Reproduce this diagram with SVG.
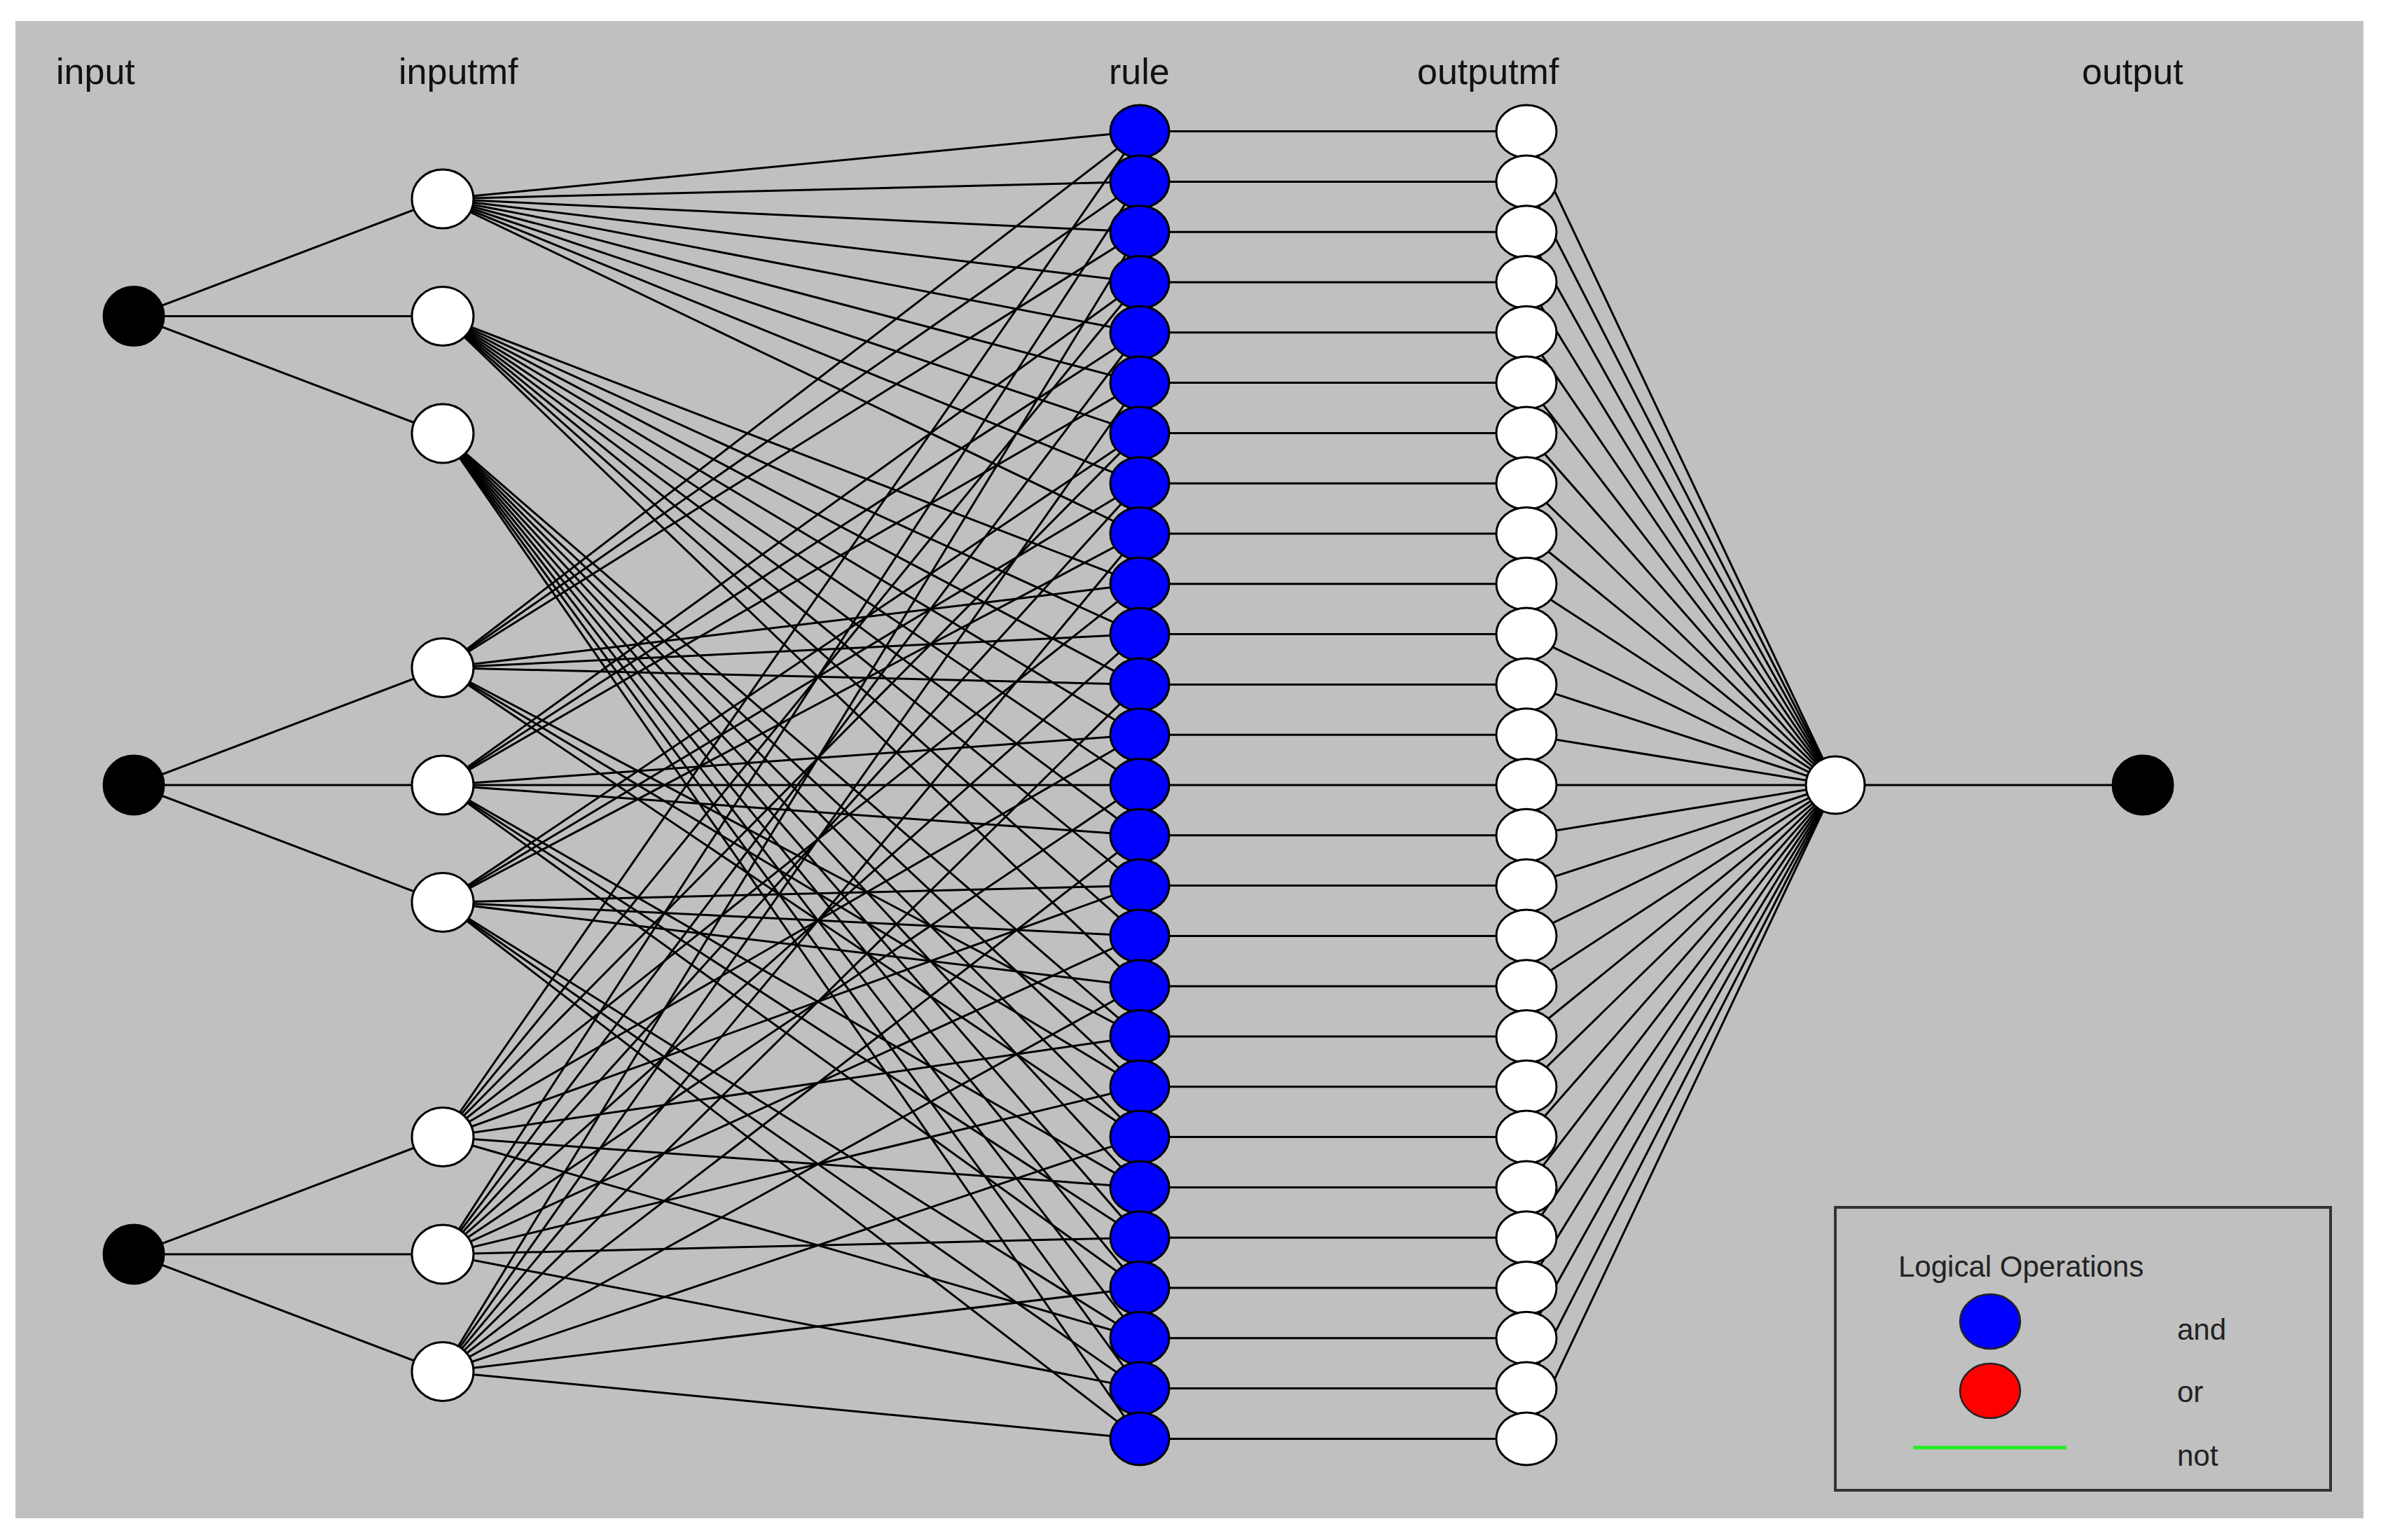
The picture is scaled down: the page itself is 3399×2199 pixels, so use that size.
<svg xmlns="http://www.w3.org/2000/svg" width="3399" height="2199" viewBox="0 0 3399 2199">
<style>
.lbl{font-family:"Liberation Sans",Arial,sans-serif;font-size:52px;fill:#111}
.lg{font-family:"Liberation Sans",Arial,sans-serif;font-size:42px;fill:#222}
.c line{stroke:#000;stroke-width:3;fill:none}
.blk{fill:#000;stroke:#000;stroke-width:3}
.wht{fill:#fff;stroke:#000;stroke-width:3}
.rul{fill:#0000ff;stroke:#000;stroke-width:3}
</style>
<rect x="0" y="0" width="3399" height="2199" fill="#fff"/>
<rect x="22" y="30" width="3352" height="2138" fill="#c0c0c0"/>
<g id="titles">
<text class="lbl" x="80" y="120">input</text>
<text class="lbl" x="569" y="120">inputmf</text>
<text class="lbl" x="1583" y="120">rule</text>
<text class="lbl" x="2023" y="120">outputmf</text>
<text class="lbl" x="2972" y="120">output</text>
</g>
<g id="connectors" class="c">
<line x1="191" y1="451.5" x2="632" y2="284"/>
<line x1="191" y1="451.5" x2="632" y2="451.5"/>
<line x1="191" y1="451.5" x2="632" y2="619"/>
<line x1="191" y1="1121" x2="632" y2="953.5"/>
<line x1="191" y1="1121" x2="632" y2="1121"/>
<line x1="191" y1="1121" x2="632" y2="1288.5"/>
<line x1="191" y1="1791" x2="632" y2="1623.5"/>
<line x1="191" y1="1791" x2="632" y2="1791"/>
<line x1="191" y1="1791" x2="632" y2="1958.5"/>
<line x1="632" y1="284" x2="1627" y2="187.6"/>
<line x1="632" y1="284" x2="1627" y2="259.4"/>
<line x1="632" y1="284" x2="1627" y2="331.2"/>
<line x1="632" y1="284" x2="1627" y2="403"/>
<line x1="632" y1="284" x2="1627" y2="474.8"/>
<line x1="632" y1="284" x2="1627" y2="546.6"/>
<line x1="632" y1="284" x2="1627" y2="618.4"/>
<line x1="632" y1="284" x2="1627" y2="690.2"/>
<line x1="632" y1="284" x2="1627" y2="762"/>
<line x1="632" y1="451.5" x2="1627" y2="833.8"/>
<line x1="632" y1="451.5" x2="1627" y2="905.6"/>
<line x1="632" y1="451.5" x2="1627" y2="977.4"/>
<line x1="632" y1="451.5" x2="1627" y2="1049.2"/>
<line x1="632" y1="451.5" x2="1627" y2="1121"/>
<line x1="632" y1="451.5" x2="1627" y2="1192.8"/>
<line x1="632" y1="451.5" x2="1627" y2="1264.6"/>
<line x1="632" y1="451.5" x2="1627" y2="1336.4"/>
<line x1="632" y1="451.5" x2="1627" y2="1408.2"/>
<line x1="632" y1="619" x2="1627" y2="1480"/>
<line x1="632" y1="619" x2="1627" y2="1551.8"/>
<line x1="632" y1="619" x2="1627" y2="1623.6"/>
<line x1="632" y1="619" x2="1627" y2="1695.4"/>
<line x1="632" y1="619" x2="1627" y2="1767.2"/>
<line x1="632" y1="619" x2="1627" y2="1839"/>
<line x1="632" y1="619" x2="1627" y2="1910.8"/>
<line x1="632" y1="619" x2="1627" y2="1982.6"/>
<line x1="632" y1="619" x2="1627" y2="2054.4"/>
<line x1="632" y1="953.5" x2="1627" y2="187.6"/>
<line x1="632" y1="953.5" x2="1627" y2="259.4"/>
<line x1="632" y1="953.5" x2="1627" y2="331.2"/>
<line x1="632" y1="953.5" x2="1627" y2="833.8"/>
<line x1="632" y1="953.5" x2="1627" y2="905.6"/>
<line x1="632" y1="953.5" x2="1627" y2="977.4"/>
<line x1="632" y1="953.5" x2="1627" y2="1480"/>
<line x1="632" y1="953.5" x2="1627" y2="1551.8"/>
<line x1="632" y1="953.5" x2="1627" y2="1623.6"/>
<line x1="632" y1="1121" x2="1627" y2="403"/>
<line x1="632" y1="1121" x2="1627" y2="474.8"/>
<line x1="632" y1="1121" x2="1627" y2="546.6"/>
<line x1="632" y1="1121" x2="1627" y2="1049.2"/>
<line x1="632" y1="1121" x2="1627" y2="1121"/>
<line x1="632" y1="1121" x2="1627" y2="1192.8"/>
<line x1="632" y1="1121" x2="1627" y2="1695.4"/>
<line x1="632" y1="1121" x2="1627" y2="1767.2"/>
<line x1="632" y1="1121" x2="1627" y2="1839"/>
<line x1="632" y1="1288.5" x2="1627" y2="618.4"/>
<line x1="632" y1="1288.5" x2="1627" y2="690.2"/>
<line x1="632" y1="1288.5" x2="1627" y2="762"/>
<line x1="632" y1="1288.5" x2="1627" y2="1264.6"/>
<line x1="632" y1="1288.5" x2="1627" y2="1336.4"/>
<line x1="632" y1="1288.5" x2="1627" y2="1408.2"/>
<line x1="632" y1="1288.5" x2="1627" y2="1910.8"/>
<line x1="632" y1="1288.5" x2="1627" y2="1982.6"/>
<line x1="632" y1="1288.5" x2="1627" y2="2054.4"/>
<line x1="632" y1="1623.5" x2="1627" y2="187.6"/>
<line x1="632" y1="1623.5" x2="1627" y2="403"/>
<line x1="632" y1="1623.5" x2="1627" y2="618.4"/>
<line x1="632" y1="1623.5" x2="1627" y2="833.8"/>
<line x1="632" y1="1623.5" x2="1627" y2="1049.2"/>
<line x1="632" y1="1623.5" x2="1627" y2="1264.6"/>
<line x1="632" y1="1623.5" x2="1627" y2="1480"/>
<line x1="632" y1="1623.5" x2="1627" y2="1695.4"/>
<line x1="632" y1="1623.5" x2="1627" y2="1910.8"/>
<line x1="632" y1="1791" x2="1627" y2="259.4"/>
<line x1="632" y1="1791" x2="1627" y2="474.8"/>
<line x1="632" y1="1791" x2="1627" y2="690.2"/>
<line x1="632" y1="1791" x2="1627" y2="905.6"/>
<line x1="632" y1="1791" x2="1627" y2="1121"/>
<line x1="632" y1="1791" x2="1627" y2="1336.4"/>
<line x1="632" y1="1791" x2="1627" y2="1551.8"/>
<line x1="632" y1="1791" x2="1627" y2="1767.2"/>
<line x1="632" y1="1791" x2="1627" y2="1982.6"/>
<line x1="632" y1="1958.5" x2="1627" y2="331.2"/>
<line x1="632" y1="1958.5" x2="1627" y2="546.6"/>
<line x1="632" y1="1958.5" x2="1627" y2="762"/>
<line x1="632" y1="1958.5" x2="1627" y2="977.4"/>
<line x1="632" y1="1958.5" x2="1627" y2="1192.8"/>
<line x1="632" y1="1958.5" x2="1627" y2="1408.2"/>
<line x1="632" y1="1958.5" x2="1627" y2="1623.6"/>
<line x1="632" y1="1958.5" x2="1627" y2="1839"/>
<line x1="632" y1="1958.5" x2="1627" y2="2054.4"/>
<line x1="1627" y1="187.6" x2="2179" y2="187.6"/>
<line x1="1627" y1="259.4" x2="2179" y2="259.4"/>
<line x1="1627" y1="331.2" x2="2179" y2="331.2"/>
<line x1="1627" y1="403" x2="2179" y2="403"/>
<line x1="1627" y1="474.8" x2="2179" y2="474.8"/>
<line x1="1627" y1="546.6" x2="2179" y2="546.6"/>
<line x1="1627" y1="618.4" x2="2179" y2="618.4"/>
<line x1="1627" y1="690.2" x2="2179" y2="690.2"/>
<line x1="1627" y1="762" x2="2179" y2="762"/>
<line x1="1627" y1="833.8" x2="2179" y2="833.8"/>
<line x1="1627" y1="905.6" x2="2179" y2="905.6"/>
<line x1="1627" y1="977.4" x2="2179" y2="977.4"/>
<line x1="1627" y1="1049.2" x2="2179" y2="1049.2"/>
<line x1="1627" y1="1121" x2="2179" y2="1121"/>
<line x1="1627" y1="1192.8" x2="2179" y2="1192.8"/>
<line x1="1627" y1="1264.6" x2="2179" y2="1264.6"/>
<line x1="1627" y1="1336.4" x2="2179" y2="1336.4"/>
<line x1="1627" y1="1408.2" x2="2179" y2="1408.2"/>
<line x1="1627" y1="1480" x2="2179" y2="1480"/>
<line x1="1627" y1="1551.8" x2="2179" y2="1551.8"/>
<line x1="1627" y1="1623.6" x2="2179" y2="1623.6"/>
<line x1="1627" y1="1695.4" x2="2179" y2="1695.4"/>
<line x1="1627" y1="1767.2" x2="2179" y2="1767.2"/>
<line x1="1627" y1="1839" x2="2179" y2="1839"/>
<line x1="1627" y1="1910.8" x2="2179" y2="1910.8"/>
<line x1="1627" y1="1982.6" x2="2179" y2="1982.6"/>
<line x1="1627" y1="2054.4" x2="2179" y2="2054.4"/>
<line x1="2179" y1="187.6" x2="2620" y2="1121"/>
<line x1="2179" y1="259.4" x2="2620" y2="1121"/>
<line x1="2179" y1="331.2" x2="2620" y2="1121"/>
<line x1="2179" y1="403" x2="2620" y2="1121"/>
<line x1="2179" y1="474.8" x2="2620" y2="1121"/>
<line x1="2179" y1="546.6" x2="2620" y2="1121"/>
<line x1="2179" y1="618.4" x2="2620" y2="1121"/>
<line x1="2179" y1="690.2" x2="2620" y2="1121"/>
<line x1="2179" y1="762" x2="2620" y2="1121"/>
<line x1="2179" y1="833.8" x2="2620" y2="1121"/>
<line x1="2179" y1="905.6" x2="2620" y2="1121"/>
<line x1="2179" y1="977.4" x2="2620" y2="1121"/>
<line x1="2179" y1="1049.2" x2="2620" y2="1121"/>
<line x1="2179" y1="1121" x2="2620" y2="1121"/>
<line x1="2179" y1="1192.8" x2="2620" y2="1121"/>
<line x1="2179" y1="1264.6" x2="2620" y2="1121"/>
<line x1="2179" y1="1336.4" x2="2620" y2="1121"/>
<line x1="2179" y1="1408.2" x2="2620" y2="1121"/>
<line x1="2179" y1="1480" x2="2620" y2="1121"/>
<line x1="2179" y1="1551.8" x2="2620" y2="1121"/>
<line x1="2179" y1="1623.6" x2="2620" y2="1121"/>
<line x1="2179" y1="1695.4" x2="2620" y2="1121"/>
<line x1="2179" y1="1767.2" x2="2620" y2="1121"/>
<line x1="2179" y1="1839" x2="2620" y2="1121"/>
<line x1="2179" y1="1910.8" x2="2620" y2="1121"/>
<line x1="2179" y1="1982.6" x2="2620" y2="1121"/>
<line x1="2179" y1="2054.4" x2="2620" y2="1121"/>
<line x1="2620" y1="1121" x2="3059" y2="1121"/>
</g>
<g id="input1"><ellipse class="blk" cx="191" cy="451.5" rx="43" ry="42"/></g>
<g id="input2"><ellipse class="blk" cx="191" cy="1121" rx="43" ry="42"/></g>
<g id="input3"><ellipse class="blk" cx="191" cy="1791" rx="43" ry="42"/></g>
<g id="inputmf1"><ellipse class="wht" cx="632" cy="284" rx="44" ry="42"/></g>
<g id="inputmf2"><ellipse class="wht" cx="632" cy="451.5" rx="44" ry="42"/></g>
<g id="inputmf3"><ellipse class="wht" cx="632" cy="619" rx="44" ry="42"/></g>
<g id="inputmf4"><ellipse class="wht" cx="632" cy="953.5" rx="44" ry="42"/></g>
<g id="inputmf5"><ellipse class="wht" cx="632" cy="1121" rx="44" ry="42"/></g>
<g id="inputmf6"><ellipse class="wht" cx="632" cy="1288.5" rx="44" ry="42"/></g>
<g id="inputmf7"><ellipse class="wht" cx="632" cy="1623.5" rx="44" ry="42"/></g>
<g id="inputmf8"><ellipse class="wht" cx="632" cy="1791" rx="44" ry="42"/></g>
<g id="inputmf9"><ellipse class="wht" cx="632" cy="1958.5" rx="44" ry="42"/></g>
<g id="rule1"><ellipse class="rul" cx="1627" cy="187.6" rx="42" ry="37.5"/></g>
<g id="rule2"><ellipse class="rul" cx="1627" cy="259.4" rx="42" ry="37.5"/></g>
<g id="rule3"><ellipse class="rul" cx="1627" cy="331.2" rx="42" ry="37.5"/></g>
<g id="rule4"><ellipse class="rul" cx="1627" cy="403" rx="42" ry="37.5"/></g>
<g id="rule5"><ellipse class="rul" cx="1627" cy="474.8" rx="42" ry="37.5"/></g>
<g id="rule6"><ellipse class="rul" cx="1627" cy="546.6" rx="42" ry="37.5"/></g>
<g id="rule7"><ellipse class="rul" cx="1627" cy="618.4" rx="42" ry="37.5"/></g>
<g id="rule8"><ellipse class="rul" cx="1627" cy="690.2" rx="42" ry="37.5"/></g>
<g id="rule9"><ellipse class="rul" cx="1627" cy="762" rx="42" ry="37.5"/></g>
<g id="rule10"><ellipse class="rul" cx="1627" cy="833.8" rx="42" ry="37.5"/></g>
<g id="rule11"><ellipse class="rul" cx="1627" cy="905.6" rx="42" ry="37.5"/></g>
<g id="rule12"><ellipse class="rul" cx="1627" cy="977.4" rx="42" ry="37.5"/></g>
<g id="rule13"><ellipse class="rul" cx="1627" cy="1049.2" rx="42" ry="37.5"/></g>
<g id="rule14"><ellipse class="rul" cx="1627" cy="1121" rx="42" ry="37.5"/></g>
<g id="rule15"><ellipse class="rul" cx="1627" cy="1192.8" rx="42" ry="37.5"/></g>
<g id="rule16"><ellipse class="rul" cx="1627" cy="1264.6" rx="42" ry="37.5"/></g>
<g id="rule17"><ellipse class="rul" cx="1627" cy="1336.4" rx="42" ry="37.5"/></g>
<g id="rule18"><ellipse class="rul" cx="1627" cy="1408.2" rx="42" ry="37.5"/></g>
<g id="rule19"><ellipse class="rul" cx="1627" cy="1480" rx="42" ry="37.5"/></g>
<g id="rule20"><ellipse class="rul" cx="1627" cy="1551.8" rx="42" ry="37.5"/></g>
<g id="rule21"><ellipse class="rul" cx="1627" cy="1623.6" rx="42" ry="37.5"/></g>
<g id="rule22"><ellipse class="rul" cx="1627" cy="1695.4" rx="42" ry="37.5"/></g>
<g id="rule23"><ellipse class="rul" cx="1627" cy="1767.2" rx="42" ry="37.5"/></g>
<g id="rule24"><ellipse class="rul" cx="1627" cy="1839" rx="42" ry="37.5"/></g>
<g id="rule25"><ellipse class="rul" cx="1627" cy="1910.8" rx="42" ry="37.5"/></g>
<g id="rule26"><ellipse class="rul" cx="1627" cy="1982.6" rx="42" ry="37.5"/></g>
<g id="rule27"><ellipse class="rul" cx="1627" cy="2054.4" rx="42" ry="37.5"/></g>
<g id="outputmf1"><ellipse class="wht" cx="2179" cy="187.6" rx="43" ry="37.5"/></g>
<g id="outputmf2"><ellipse class="wht" cx="2179" cy="259.4" rx="43" ry="37.5"/></g>
<g id="outputmf3"><ellipse class="wht" cx="2179" cy="331.2" rx="43" ry="37.5"/></g>
<g id="outputmf4"><ellipse class="wht" cx="2179" cy="403" rx="43" ry="37.5"/></g>
<g id="outputmf5"><ellipse class="wht" cx="2179" cy="474.8" rx="43" ry="37.5"/></g>
<g id="outputmf6"><ellipse class="wht" cx="2179" cy="546.6" rx="43" ry="37.5"/></g>
<g id="outputmf7"><ellipse class="wht" cx="2179" cy="618.4" rx="43" ry="37.5"/></g>
<g id="outputmf8"><ellipse class="wht" cx="2179" cy="690.2" rx="43" ry="37.5"/></g>
<g id="outputmf9"><ellipse class="wht" cx="2179" cy="762" rx="43" ry="37.5"/></g>
<g id="outputmf10"><ellipse class="wht" cx="2179" cy="833.8" rx="43" ry="37.5"/></g>
<g id="outputmf11"><ellipse class="wht" cx="2179" cy="905.6" rx="43" ry="37.5"/></g>
<g id="outputmf12"><ellipse class="wht" cx="2179" cy="977.4" rx="43" ry="37.5"/></g>
<g id="outputmf13"><ellipse class="wht" cx="2179" cy="1049.2" rx="43" ry="37.5"/></g>
<g id="outputmf14"><ellipse class="wht" cx="2179" cy="1121" rx="43" ry="37.5"/></g>
<g id="outputmf15"><ellipse class="wht" cx="2179" cy="1192.8" rx="43" ry="37.5"/></g>
<g id="outputmf16"><ellipse class="wht" cx="2179" cy="1264.6" rx="43" ry="37.5"/></g>
<g id="outputmf17"><ellipse class="wht" cx="2179" cy="1336.4" rx="43" ry="37.5"/></g>
<g id="outputmf18"><ellipse class="wht" cx="2179" cy="1408.2" rx="43" ry="37.5"/></g>
<g id="outputmf19"><ellipse class="wht" cx="2179" cy="1480" rx="43" ry="37.5"/></g>
<g id="outputmf20"><ellipse class="wht" cx="2179" cy="1551.8" rx="43" ry="37.5"/></g>
<g id="outputmf21"><ellipse class="wht" cx="2179" cy="1623.6" rx="43" ry="37.5"/></g>
<g id="outputmf22"><ellipse class="wht" cx="2179" cy="1695.4" rx="43" ry="37.5"/></g>
<g id="outputmf23"><ellipse class="wht" cx="2179" cy="1767.2" rx="43" ry="37.5"/></g>
<g id="outputmf24"><ellipse class="wht" cx="2179" cy="1839" rx="43" ry="37.5"/></g>
<g id="outputmf25"><ellipse class="wht" cx="2179" cy="1910.8" rx="43" ry="37.5"/></g>
<g id="outputmf26"><ellipse class="wht" cx="2179" cy="1982.6" rx="43" ry="37.5"/></g>
<g id="outputmf27"><ellipse class="wht" cx="2179" cy="2054.4" rx="43" ry="37.5"/></g>
<g id="aggregate"><ellipse class="wht" cx="2620" cy="1121" rx="42" ry="41"/></g>
<g id="output1"><ellipse class="blk" cx="3059" cy="1121" rx="43" ry="42"/></g>
<g id="legend">
<rect x="2620" y="1724" width="707" height="404" fill="none" stroke="#333" stroke-width="4"/>
<text class="lg" x="2710" y="1823">Logical Operations</text>
<ellipse cx="2841" cy="1887" rx="43" ry="39" fill="#0000ff" stroke="#222" stroke-width="2.5"/>
<ellipse cx="2841" cy="1986" rx="43" ry="39" fill="#ff0000" stroke="#222" stroke-width="2.5"/>
<line x1="2731" y1="2067" x2="2950" y2="2067" stroke="#22ee22" stroke-width="5"/>
<text class="lg" x="3108" y="1913">and</text>
<text class="lg" x="3108" y="2002">or</text>
<text class="lg" x="3108" y="2093">not</text>
</g>
</svg>
